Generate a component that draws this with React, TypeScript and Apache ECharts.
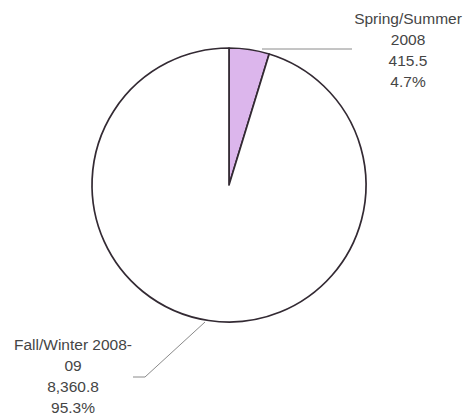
import React, { useEffect, useRef } from "react";
import * as echarts from "echarts";

const categories = ["Spring/Summer\n2008", "Fall/Winter 2008-\n09"];
const values = [415.5, 8360.8];
const colors = ["#dcb6ec", "#ffffff"];

const fmt = (v: number) =>
  v.toLocaleString("en-US", { minimumFractionDigits: 1, maximumFractionDigits: 1 });

export default function App() {
  const ref = useRef<HTMLDivElement>(null);
  useEffect(() => {
    document.body.style.margin = "0";
    const chart = echarts.init(ref.current!, null, { renderer: "svg" });
    chart.setOption({
      animation: false,
      backgroundColor: "#ffffff",
      series: [
        {
          type: "pie",
          center: [229, 185],
          radius: [0, 137],
          startAngle: 90,
          clockwise: true,
          percentPrecision: 1,
          avoidLabelOverlap: false,
          data: categories.map((name, i) => ({
            name,
            value: values[i],
            itemStyle: { color: colors[i] },
          })),
          itemStyle: { borderColor: "#332a33", borderWidth: 1.7 },
          emphasis: { disabled: true },
          label: {
            show: true,
            position: "outside",
            formatter: (p: any) => `${p.name}\n${fmt(p.value)}\n${p.percent.toFixed(1)}%`,
            fontFamily: "Arial, 'Liberation Sans', sans-serif",
            fontSize: 15.5,
            lineHeight: 21,
            color: "#454545",
            align: "center",
          },
          labelLine: {
            show: true,
            lineStyle: { color: "#8a8a8a", width: 1 },
          },
          labelLayout: (p: any) => {
            if (p.dataIndex === 0) {
              return {
                x: 408,
                y: 50,
                align: "center",
                verticalAlign: "middle",
                labelLinePoints: [
                  [262, 49],
                  [300, 49],
                  [352, 49],
                ],
              };
            }
            return {
              x: 73,
              y: 376,
              align: "center",
              verticalAlign: "middle",
              labelLinePoints: [
                [205, 322],
                [145, 377],
                [133, 377],
              ],
            };
          },
        },
      ],
    });
    return () => chart.dispose();
  }, []);
  return <div ref={ref} style={{ width: 469, height: 420 }} />;
}
